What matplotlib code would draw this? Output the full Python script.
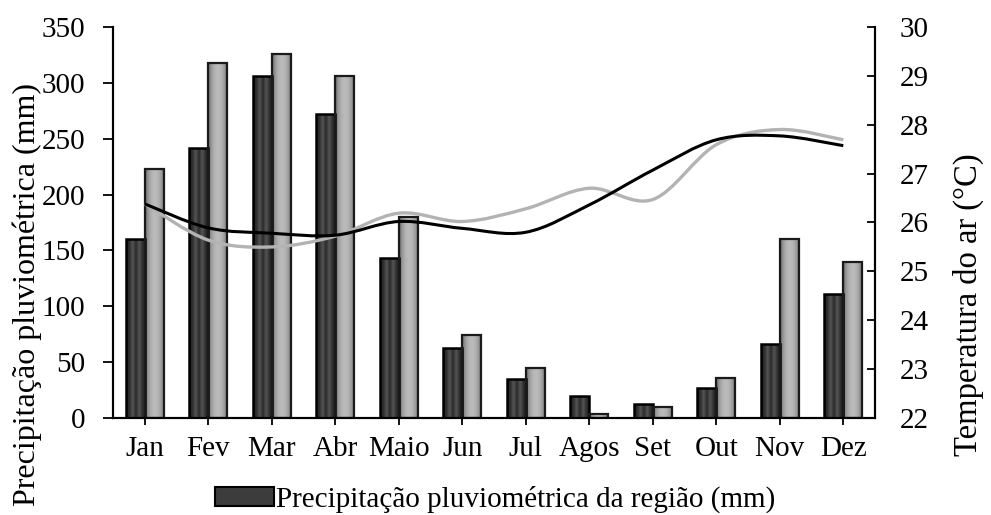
import numpy as np
import matplotlib
matplotlib.use("Agg")
import matplotlib.pyplot as plt
from matplotlib.colors import LinearSegmentedColormap
from matplotlib.path import Path
from matplotlib.patches import PathPatch, Rectangle

# data
months = ["Jan", "Fev", "Mar", "Abr", "Maio", "Jun", "Jul", "Agos", "Set", "Out", "Nov", "Dez"]
rain_region = [160, 242, 306, 272, 143, 63, 35, 20, 13, 27, 66, 111]
rain_year = [223, 318, 326, 306, 180, 74, 45, 4, 10, 36, 160, 140]
temp_black = [26.38, 25.89, 25.78, 25.74, 26.02, 25.88, 25.80, 26.36, 27.07, 27.69, 27.77, 27.57]
temp_gray = [26.38, 25.64, 25.50, 25.72, 26.19, 26.02, 26.28, 26.70, 26.47, 27.59, 27.90, 27.69]
rain_ticks = [0, 50, 100, 150, 200, 250, 300, 350]
temp_ticks = [22, 23, 24, 25, 26, 27, 28, 29, 30]

plt.rcParams['font.family'] = ['Liberation Serif', 'DejaVu Serif']
plt.rcParams['font.size'] = 21

fig = plt.figure(figsize=(9.91, 5.15), dpi=100)
ax = fig.add_axes([0.114, 0.188, 0.769, 0.760])
ax2 = ax.twinx()

x = np.arange(len(months))
w = 0.3


def shade(bars, colors):
    """Fill each bar with a horizontal grey gradient (bevel look)."""
    cmap = LinearSegmentedColormap.from_list('bevel', colors)
    grad = np.linspace(0, 1, 64).reshape(1, -1)
    for b in bars:
        x0, y0 = b.get_x(), b.get_y()
        im = ax.imshow(grad, extent=[x0, x0 + b.get_width(), y0, y0 + b.get_height()],
                       cmap=cmap, aspect='auto', interpolation='bilinear', zorder=1)
        im.set_clip_path(b)


b1 = ax.bar(x - w / 2, rain_region, w, facecolor='none', edgecolor='black', linewidth=1.8,
            zorder=2, label='Precipitação pluviométrica da região (mm)')
b2 = ax.bar(x + w / 2, rain_year, w, facecolor='none', edgecolor='#1a1a1a', linewidth=1.6, zorder=2)
shade(b1, ['#1e1e1e', '#2e2e2e', '#555555', '#2a2a2a', '#555555', '#2e2e2e', '#1e1e1e'])
shade(b2, ['#6a6a6a', '#9a9a9a', '#b4b4b4', '#bcbcbc', '#b4b4b4', '#9a9a9a', '#6a6a6a'])

ax.set_xlim(-0.5, len(months) - 0.5)
ax.set_ylim(0, 350)
ax.set_yticks(rain_ticks)
ax.set_xticks(x)
ax.set_xticklabels(months)
ax.tick_params(axis='y', direction='out', length=7, width=1.3, pad=13)
ax.tick_params(axis='x', direction='out', length=5, width=1.3, pad=8)
ax.set_ylabel('Precipitação pluviométrica (mm)', fontsize=23)
ax.yaxis.set_label_coords(-0.093, 0.317)


def smooth_path(xs, ys):
    # Catmull-Rom style bezier through the points (like a spreadsheet "smoothed line")
    pts = np.column_stack([xs, ys]).astype(float)
    p = np.vstack([pts[0], pts, pts[-1]])
    verts = [pts[0]]
    codes = [Path.MOVETO]
    for i in range(1, len(p) - 2):
        c1 = p[i] + (p[i + 1] - p[i - 1]) / 6
        c2 = p[i + 1] - (p[i + 2] - p[i]) / 6
        verts += [c1, c2, p[i + 1]]
        codes += [Path.CURVE4] * 3
    return Path(verts, codes)


ax2.add_patch(PathPatch(smooth_path(x, temp_gray), fill=False, edgecolor='#b3b3b3', linewidth=2.4))
ax2.add_patch(PathPatch(smooth_path(x, temp_black), fill=False, edgecolor='black', linewidth=2.2))
ax2.set_ylim(22, 30)
ax2.set_yticks(temp_ticks)
ax2.tick_params(axis='y', direction='in', length=6, width=1.3, pad=18)
ax2.set_ylabel('Temperatura do ar (°C)', fontsize=23.5)
ax2.yaxis.set_label_coords(1.102, 0.29)

for a in (ax, ax2):
    a.spines['top'].set_visible(False)
    for s in ('left', 'right', 'bottom'):
        a.spines[s].set_linewidth(1.5)

fig.legend(handles=[Rectangle((0, 0), 1, 1, facecolor='#3c3c3c', edgecolor='black', linewidth=1.5)],
           labels=['Precipitação pluviométrica da região (mm)'],
           loc='center', bbox_to_anchor=(0.5, 0.03), frameon=False,
           handlelength=2.0, handleheight=0.6, handletextpad=0.1, borderaxespad=0)

fig.savefig('out.png', dpi=100)
